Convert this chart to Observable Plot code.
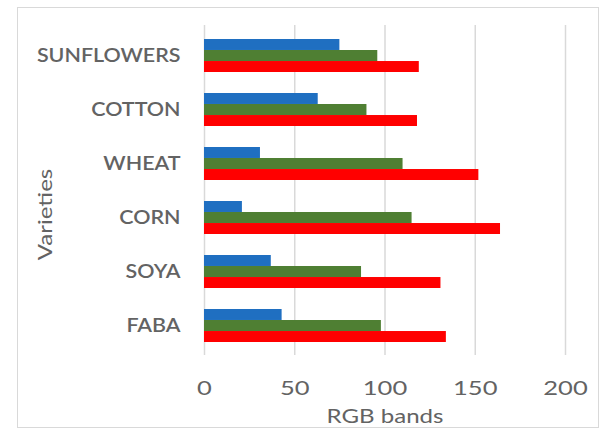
<!DOCTYPE html>
<html>
<head>
<meta charset="utf-8">
<script src="https://cdn.jsdelivr.net/npm/d3@7"></script>
<script src="https://cdn.jsdelivr.net/npm/@observablehq/plot@0.6"></script>
<style>
  html, body { margin: 0; padding: 0; background: #fff; }
  #chart { position: relative; width: 603px; height: 429px; overflow: hidden; }
  #frame { position: absolute; left: 17px; top: 7px; width: 582px; height: 421px;
           border: 1.5px solid #d9d9d9; box-sizing: border-box; }
  #chart svg { position: absolute; left: 0; top: 0; }
</style>
</head>
<body>
<div id="chart"><div id="frame"></div></div>
<script>
// Crop varieties, top to bottom
const varieties = ["SUNFLOWERS", "COTTON", "WHEAT", "CORN", "SOYA", "FABA"];
// Mean value of each RGB band per variety
const blueBand  = [75, 63, 31, 21, 37, 43];
const greenBand = [96, 90, 110, 115, 87, 98];
const redBand   = [119, 118, 152, 164, 131, 134];
const bandNames = ["Blue", "Green", "Red"];
const bandColors = ["#1f6fc1", "#4f7f33", "#ff0000"];
const xTicks = [0, 50, 100, 150, 200];

const rows = varieties.flatMap((v, i) => [
  {variety: v, band: "Blue", value: blueBand[i]},
  {variety: v, band: "Green", value: greenBand[i]},
  {variety: v, band: "Red", value: redBand[i]}
]);

const width = 603, height = 429;
const marginTop = 25, marginBottom = 74, marginLeft = 204, marginRight = 38;
const padInner = 0.395, padOuter = 0.22;

// Each variety band is split into three equal stripes, one per colour band
const bw = d3.scaleBand()
  .domain(varieties)
  .range([marginTop, height - marginBottom])
  .paddingInner(padInner)
  .paddingOuter(padOuter)
  .bandwidth();
const stripe = bw / 3;

const bandBars = bandNames.map((name, k) =>
  Plot.barX(rows.filter(d => d.band === name), {
    x: "value",
    y: "variety",
    fill: bandColors[k],
    insetTop: k * stripe,
    insetBottom: (2 - k) * stripe
  })
);

const chart = Plot.plot({
  width, height, marginTop, marginBottom, marginLeft, marginRight,
  style: {fontFamily: "Lato, 'Open Sans', sans-serif", fontSize: "18.5px", color: "#636363", background: "transparent"},
  x: {domain: [0, 200]},
  y: {domain: varieties, paddingInner: padInner, paddingOuter: padOuter},
  marks: [
    Plot.gridX(xTicks, {stroke: "#d9d9d9", strokeOpacity: 1, strokeWidth: 1.5}),
    ...bandBars,
    Plot.axisX({ticks: xTicks, tickSize: 0, tickPadding: 26, label: "RGB bands",
                labelAnchor: "center", labelOffset: 67, labelArrow: "none"}),
    Plot.axisY({tickSize: 0, tickPadding: 24, fontWeight: 600, label: "Varieties",
                labelAnchor: "center", labelOffset: 166, labelArrow: "none"})
  ]
});

document.getElementById("chart").appendChild(chart);

// Widen the lettering horizontally, keeping each label anchored in place
function widen(selector, sx, shift = 0) {
  chart.querySelectorAll(selector).forEach(t => {
    const tr = t.getAttribute("transform");
    const extra = (shift ? ` translate(${shift},0)` : "") + ` scale(${sx},1)`;
    if (tr) {
      t.setAttribute("transform", tr + extra);
    } else {
      const x = +(t.getAttribute("x") || 0);
      t.setAttribute("transform", `translate(${x},0)${extra} translate(${-x},0)`);
    }
  });
}
widen('[aria-label="x-axis tick label"] text', 1.38);
widen('[aria-label="y-axis tick label"] text', 1.16);
widen('[aria-label="x-axis label"] text', 1.3);
// the rotated title sits a little below the middle of the frame
widen('[aria-label="y-axis label"] text', 1.3, -24);
chart.querySelectorAll('[aria-label="y-axis label"] text, [aria-label="y-axis label"]').forEach(n => n.setAttribute("font-weight", "normal"));
</script>
</body>
</html>
